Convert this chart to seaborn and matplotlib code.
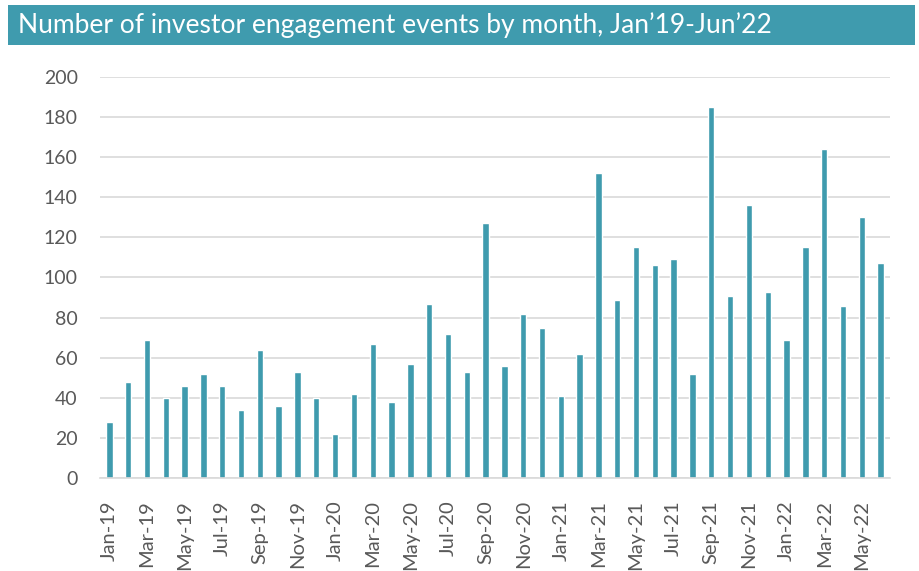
### Bar chart of investor engagement events per month, Jan-19 to Jun-22 ###

import pandas as pd
import matplotlib.pyplot as plt
import matplotlib.patches as mpatches
import seaborn as sns

# Step 1: Data
months = pd.date_range('2019-01-01', '2022-06-01', freq='MS').strftime('%b-%y').tolist()
events = [28, 48, 69, 40, 46, 52, 46, 34, 64, 36, 53, 40,
          22, 42, 67, 38, 57, 87, 72, 53, 127, 56, 82, 75,
          41, 62, 152, 89, 115, 106, 109, 52, 185, 91, 136, 93,
          69, 115, 164, 86, 130, 107]
y_ticks = [0, 20, 40, 60, 80, 100, 120, 140, 160, 180, 200]

df = pd.DataFrame({'Month': months, 'Events': events})

# Step 2: Style
sns.set_style('white')
plt.rcParams['font.family'] = ['Lato', 'DejaVu Sans']
teal = '#3F9BAE'
grey_text = '#595959'

fig = plt.figure(figsize=(9.19, 5.71), dpi=100)
ax = fig.add_axes([0.1088, 0.1629, 0.8596, 0.7023])

# Step 3: Bars
sns.barplot(data=df, x='Month', y='Events', color=teal, width=0.34,
            saturation=1, ax=ax, zorder=3)

ax.set_ylim(0, 200)
ax.set_xlim(-0.5, len(months) - 0.5)
ax.set_yticks(y_ticks)
ax.yaxis.grid(True, color='#D9D9D9', linewidth=1.2, zorder=0)
ax.tick_params(axis='y', length=0, pad=16, labelsize=14, labelcolor=grey_text)

# labels every other month, tick marks on category boundaries
ax.set_xticks(range(0, len(months), 2))
ax.set_xticklabels(months[::2], rotation=90)
ax.tick_params(axis='x', which='major', length=0, pad=16, labelsize=14.5, labelcolor=grey_text)
ax.set_xticks([i - 0.5 for i in range(0, len(months) + 1, 2)], minor=True)
ax.tick_params(axis='x', which='minor', length=7, width=1.2, color='#D9D9D9')

ax.set_xlabel('')
ax.set_ylabel('')
for side in ['top', 'right', 'left']:
    ax.spines[side].set_visible(False)
ax.spines['bottom'].set_color('#D9D9D9')
ax.spines['bottom'].set_linewidth(1.2)
ax.spines['bottom'].set_zorder(4)

# Step 4: Title banner
banner = mpatches.Rectangle((0.0087, 0.9212), 0.987, 0.07, transform=fig.transFigure,
                            facecolor=teal, edgecolor='none')
fig.patches.append(banner)
fig.text(0.02, 0.9562, "Number of investor engagement events by month, Jan\u201919-Jun\u201922",
         color='white', fontsize=19, va='center', ha='left')

plt.savefig('out.png', dpi=100)
